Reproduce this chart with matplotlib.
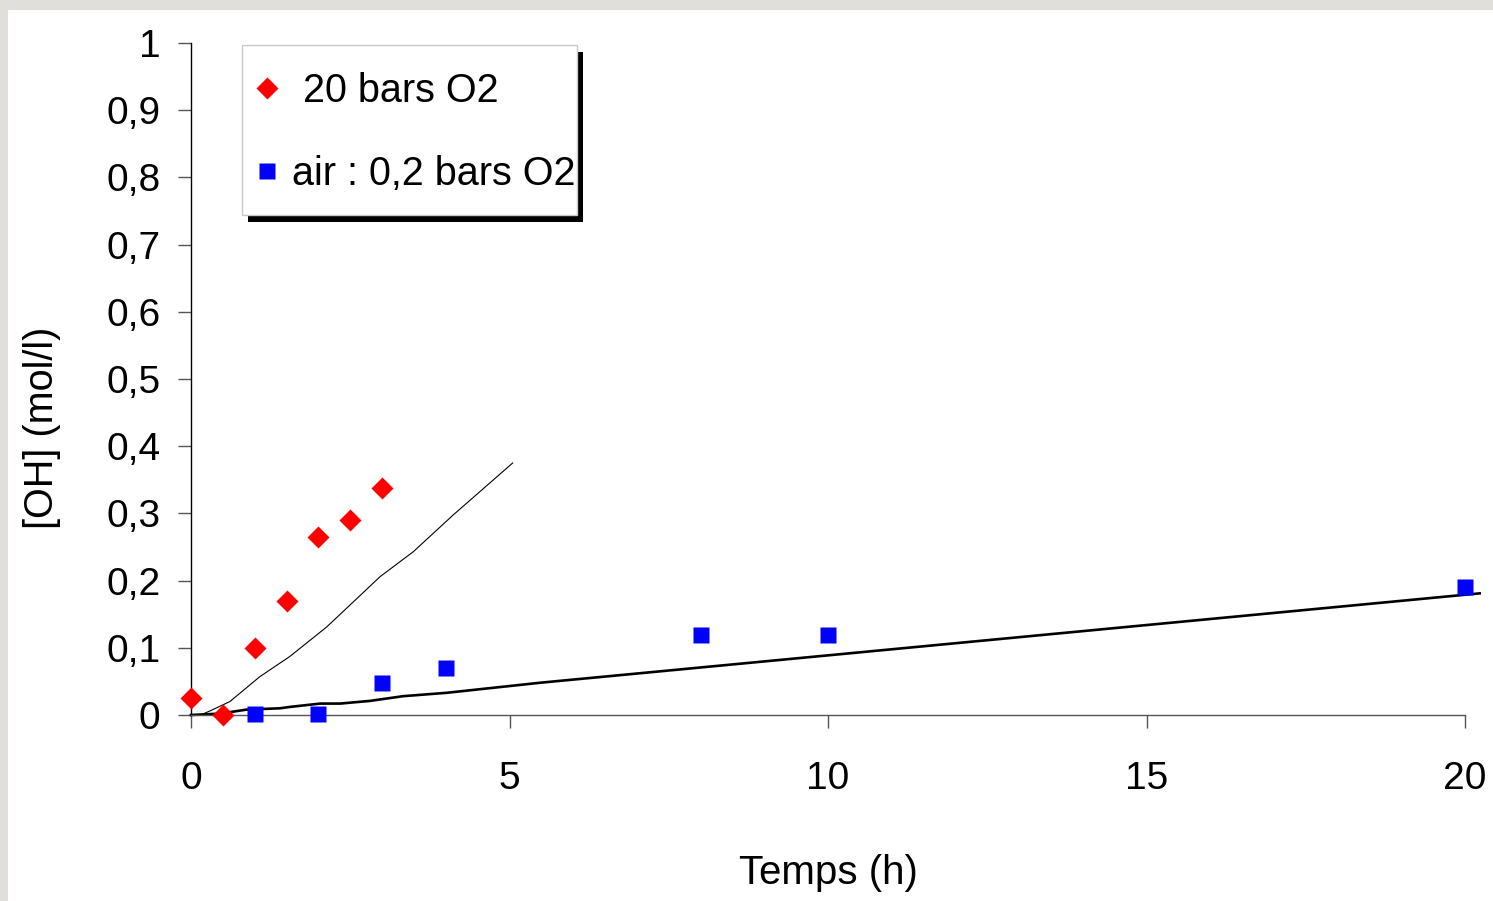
import numpy as np
import matplotlib
matplotlib.use('Agg')
import matplotlib.pyplot as plt
from matplotlib.patches import Rectangle

plt.rcParams['font.family'] = ['Liberation Sans', 'DejaVu Sans']

# measured points
t_20bar = [0, 0.5, 1, 1.5, 2, 2.5, 3]
oh_20bar = [0.025, 0.0, 0.1, 0.17, 0.265, 0.29, 0.338]
t_air = [1, 2, 3, 4, 8, 10, 20]
oh_air = [0.002, 0.002, 0.047, 0.07, 0.119, 0.119, 0.19]

# model curves
t_mod20 = [0, 0.15, 0.32, 0.61, 1.08, 1.55, 2.13, 2.5, 2.97, 3.49, 4.12, 5.05]
oh_mod20 = [0, 0.0, 0.007, 0.02, 0.057, 0.087, 0.131, 0.164, 0.206, 0.243, 0.298, 0.375]
t_modair = [0, 0.45, 0.87, 1.40, 1.55, 2.03, 2.34, 2.81, 3.33, 4.01, 5.48, 20.23]
oh_modair = [0, 0.002, 0.008, 0.010, 0.012, 0.017, 0.017, 0.021, 0.028, 0.033, 0.048, 0.181]

fig = plt.figure(figsize=(14.93, 9.01), dpi=100)
fig.patch.set_facecolor('#e0dfdb')
fig.patches.append(Rectangle((8/1493, 0), 1, 1 - 10/901, transform=fig.transFigure,
                             facecolor='white', edgecolor='none', zorder=-10))

ax = fig.add_axes([191/1493, 1 - 715/901, 1274/1493, 672/901])
ax.set_facecolor('none')

ax.plot(t_mod20, oh_mod20, color='black', lw=0.8, zorder=2)
ax.plot(t_modair, oh_modair, color='black', lw=1.9, zorder=2, clip_on=False)
l1, = ax.plot(t_20bar, oh_20bar, 'D', color='#ff0000', ms=11.5, mec='none', clip_on=False, zorder=3)
l2, = ax.plot(t_air, oh_air, 's', color='#0000ff', ms=11.5, mec='none', clip_on=False, zorder=3)

ax.set_xlim(0, 20)
ax.set_ylim(0, 1)
ax.set_xticks([0, 5, 10, 15, 20])
ax.set_xticklabels(['0', '5', '10', '15', '20'])
ax.set_yticks(np.arange(0, 1.01, 0.1))
ax.set_yticklabels(['0', '0,1', '0,2', '0,3', '0,4', '0,5', '0,6', '0,7', '0,8', '0,9', '1'])

for s in ['top', 'right']:
    ax.spines[s].set_visible(False)
ax.spines['left'].set_color('black')
ax.spines['left'].set_linewidth(1.0)
ax.spines['bottom'].set_color('#555555')
ax.spines['bottom'].set_linewidth(1.0)

ax.tick_params(axis='y', direction='out', length=9.4, width=1.0, color='#555555',
               labelsize=28, pad=12.5)
ax.tick_params(axis='x', direction='out', length=9.4, width=1.0, color='#555555',
               labelsize=28, pad=24)

ax.set_xlabel('Temps (h)', fontsize=29, va='center')
ax.xaxis.set_label_coords(0.5, -0.235)
ax.set_ylabel('[OH] (mol/l)', fontsize=28.5, va='center')
ax.yaxis.set_label_coords(-0.117, 0.427)

# legend box with shadow
bx, by = (242 - 191)/1274, (715 - 215)/672
bw, bh = 335/1274, 170/672
ax.add_patch(Rectangle((bx + 6/1274, by - 7/672), bw, bh, transform=ax.transAxes,
                       facecolor='black', edgecolor='none', clip_on=False, zorder=5))
ax.add_patch(Rectangle((bx, by), bw, bh, transform=ax.transAxes,
                       facecolor='white', edgecolor='#c8c8c8', lw=1.0, clip_on=False, zorder=6))
leg = ax.legend([l1, l2], [' 20 bars O2', 'air : 0,2 bars O2'], loc='center left',
                bbox_to_anchor=((255 - 191)/1274, (715 - 132.5)/672), frameon=False,
                fontsize=28.5, borderpad=0, borderaxespad=0, numpoints=1,
                handlelength=0.6, handletextpad=0.33, labelspacing=1.15)
leg.set_zorder(7)

fig.savefig('out.png', dpi=100)
